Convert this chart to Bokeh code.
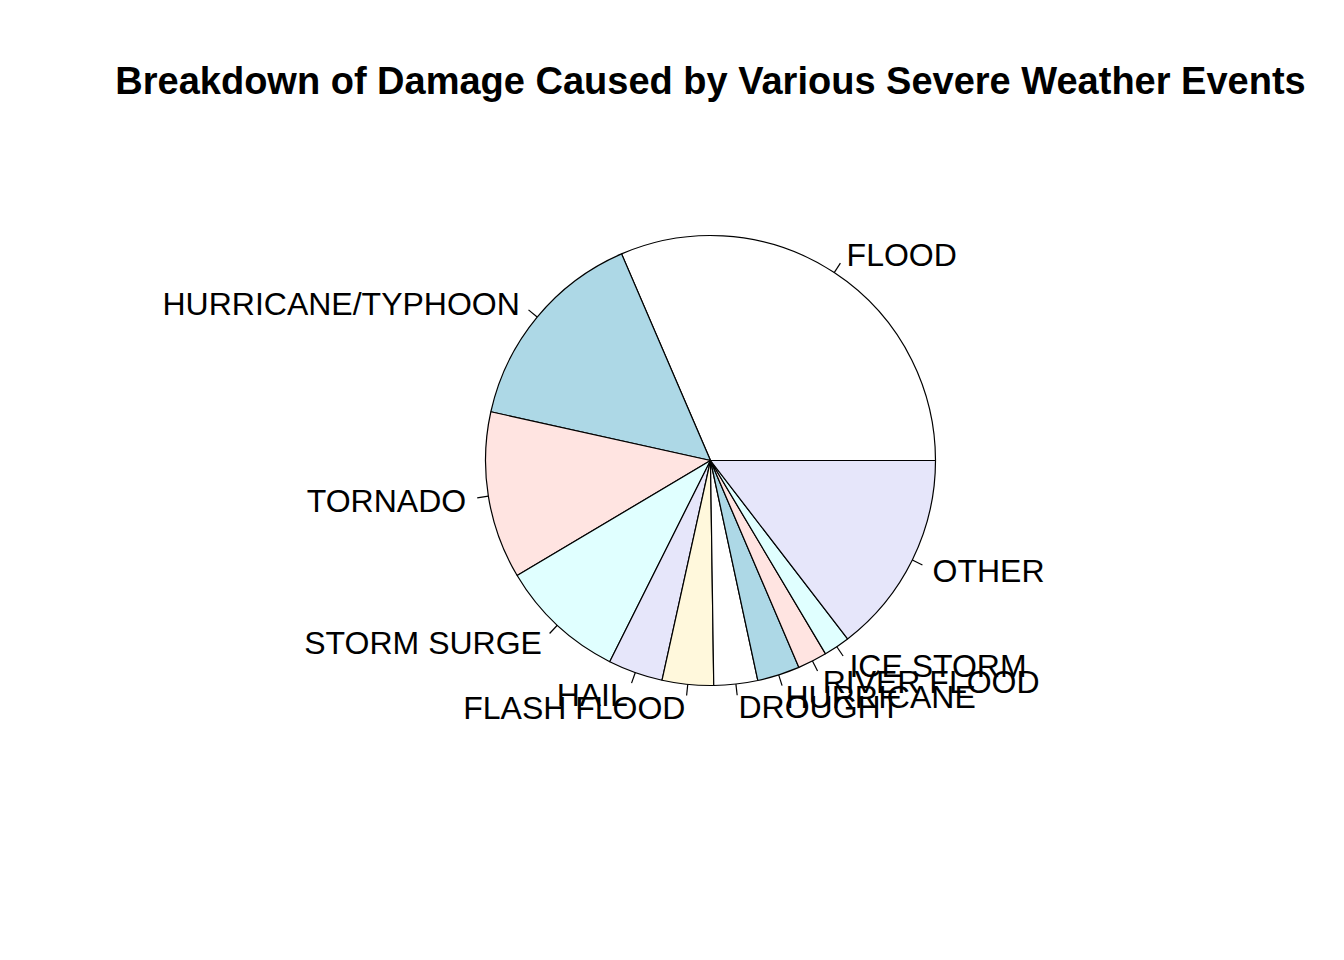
import numpy as np
from bokeh.plotting import figure
from bokeh.models import Range1d, ColumnDataSource
from bokeh.embed import file_html
from bokeh.resources import INLINE
from bokeh.core.properties import value

# Data (damage, billions USD)
events = ["FLOOD", "HURRICANE/TYPHOON", "TORNADO", "STORM SURGE", "HAIL",
          "FLASH FLOOD", "DROUGHT", "HURRICANE", "RIVER FLOOD", "ICE STORM", "OTHER"]
damage = [150.3, 71.9, 57.4, 43.3, 18.8, 17.6, 15.0, 14.6, 10.1, 9.0, 69.6]
palette = ["white", "lightblue", "mistyrose", "lightcyan", "lavender", "cornsilk"]
title = "Breakdown of Damage Caused by Various Severe Weather Events"

W, H = 1344, 960
cx, cy, r = 710, 500, 225

vals = np.array(damage, dtype=float)
cum = np.concatenate([[0], np.cumsum(vals)]) / vals.sum() * 2 * np.pi
start = cum[:-1]
end = cum[1:]
mid = (start + end) / 2
colors = [palette[i % len(palette)] for i in range(len(events))]

p = figure(width=W, height=H, output_backend="svg", toolbar_location=None,
           x_range=Range1d(0, W), y_range=Range1d(0, H),
           x_axis_type=None, y_axis_type=None, min_border=0)
p.outline_line_color = None
p.grid.visible = False
p.background_fill_color = "white"
p.border_fill_color = "white"

src = ColumnDataSource(dict(start=start, end=end, color=colors))
p.wedge(x=cx, y=cy, radius=r, start_angle="start", end_angle="end",
        fill_color="color", line_color="black", line_width=1.2, source=src)

# tick marks
p.segment(x0=cx + r * np.cos(mid), y0=cy + r * np.sin(mid),
          x1=cx + 1.05 * r * np.cos(mid), y1=cy + 1.05 * r * np.sin(mid),
          line_color="black", line_width=1.2)

lx = cx + 1.1 * r * np.cos(mid)
ly = cy + 1.1 * r * np.sin(mid) - 1
align = ["left" if np.cos(m) > 0 else "right" for m in mid]
lsrc = ColumnDataSource(dict(x=lx, y=ly, t=events, a=align))
p.text(x="x", y="y", text="t", text_align="a", text_baseline="middle",
       text_font=value("Liberation Sans"), text_font_size="32px",
       text_color="black", source=lsrc)

p.text(x=[cx], y=[H - 80], text=[title], text_align="center", text_baseline="middle",
       text_font=value("Liberation Sans"), text_font_style="bold",
       text_font_size="38px", text_color="black")

open("out.html", "w").write(file_html(p, INLINE))
